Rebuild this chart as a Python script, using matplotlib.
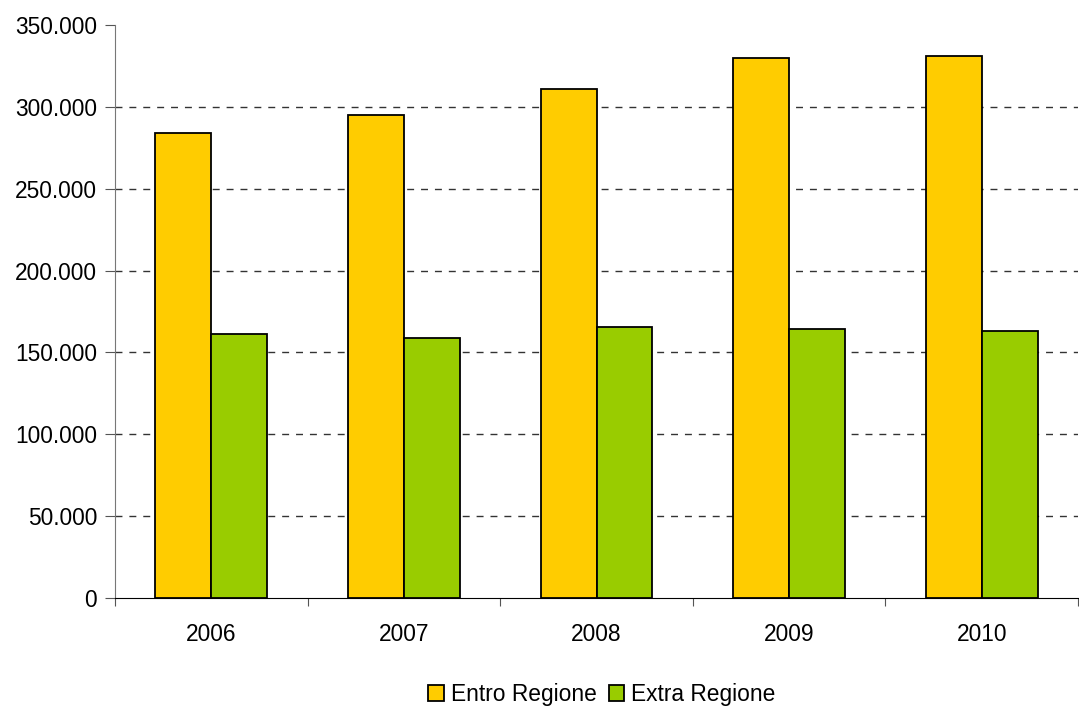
import matplotlib
matplotlib.use('Agg')
import matplotlib.pyplot as plt
import numpy as np
from matplotlib.ticker import FuncFormatter, MultipleLocator

# --- dati ---
anni = ['2006', '2007', '2008', '2009', '2010']
entro_regione = [284000, 295000, 311000, 330000, 331000]
extra_regione = [161000, 159000, 165500, 164000, 163000]

plt.rcParams['font.family'] = ['Liberation Sans', 'DejaVu Sans']
FS = 16.4

fig = plt.figure(figsize=(10.79, 7.06), dpi=100)
ax = fig.add_axes([0.1066, 0.153, 0.8925, 0.8116])

x = np.arange(len(anni))
w = 0.29
ax.bar(x - w / 2, entro_regione, w, color='#FFCC00', edgecolor='black', linewidth=1.3,
       label='Entro Regione', zorder=3)
ax.bar(x + w / 2, extra_regione, w, color='#99CC00', edgecolor='black', linewidth=1.3,
       label='Extra Regione', zorder=3)

ax.set_xlim(-0.5, len(anni) - 0.5)
ax.set_ylim(0, 350000)
ax.yaxis.set_major_locator(MultipleLocator(50000))
ax.yaxis.set_major_formatter(FuncFormatter(lambda v, p: '0' if v == 0 else f'{int(v):,}'.replace(',', '.')))

# griglia tratteggiata (senza linea a 0 e in cima)
for v in np.arange(50000, 350000, 50000):
    ax.axhline(v, color='#333333', linestyle=(0, (5, 5)), linewidth=1.0, zorder=0)

# tick a cavallo delle categorie
ax.set_xticks(np.arange(-0.5, len(anni) + 0.5, 1.0))
ax.set_xticklabels([])
ax.set_xticks(x, minor=True)
ax.set_xticklabels(anni, minor=True)
ax.tick_params(axis='x', which='major', length=6, direction='out', color='#555555')
ax.tick_params(axis='x', which='minor', length=0, pad=18, labelsize=FS)
ax.tick_params(axis='y', length=7, direction='out', color='#555555', labelsize=FS, pad=6)

for s in ['top', 'right']:
    ax.spines[s].set_visible(False)
ax.spines['left'].set_color('#777777')
ax.spines['bottom'].set_color('black')

fig.legend(loc='lower center', bbox_to_anchor=(0.558, -0.029), ncol=2, frameon=False,
           fontsize=FS, handlelength=0.7, handleheight=0.7, handletextpad=0.3,
           columnspacing=0.5)

fig.savefig('out.png', dpi=100)
